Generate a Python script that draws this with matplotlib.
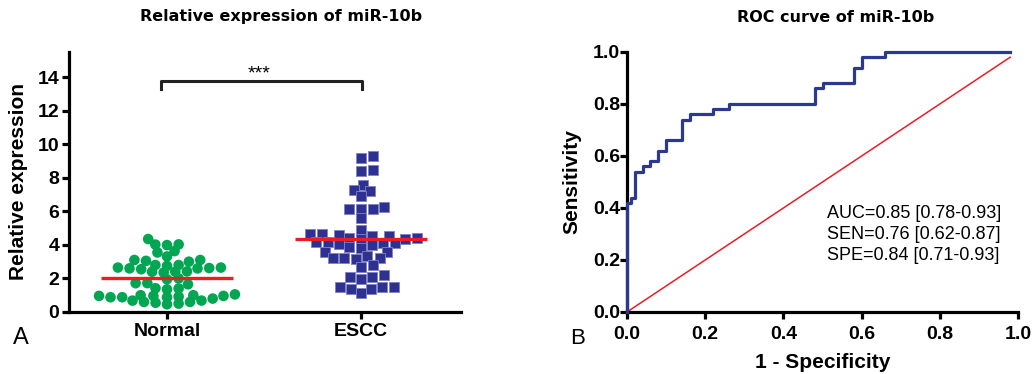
import numpy as np
import matplotlib
matplotlib.use('Agg')
import matplotlib.pyplot as plt

plt.rcParams['font.family'] = ['Liberation Sans', 'DejaVu Sans']

# ---- data ----
groups = ['Normal', 'ESCC']
normal_vals = [4.35, 4.02, 3.99, 4.03, 3.63, 3.55, 3.31, 3.1, 3.05, 3.0,
               3.1, 2.8, 2.75, 2.8, 2.65, 2.6, 2.6, 2.55, 2.65, 2.62,
               2.42, 2.35, 2.4, 2.4, 2.0, 1.95, 1.72, 1.65, 1.72, 1.4,
               1.35, 1.42, 0.88, 1.0, 1.0, 0.96, 0.92, 0.96, 0.96, 1.05,
               0.8, 0.88, 0.88, 0.68, 0.6, 0.55, 0.46, 0.5, 0.6, 0.68]
escc_vals = [9.3, 9.21, 8.49, 8.39, 7.6, 7.3, 7.2, 6.9, 6.27, 6.17,
             6.17, 6.16, 5.58, 4.88, 4.64, 4.54, 4.39, 4.35, 4.39, 4.52,
             4.58, 4.64, 4.33, 4.19, 4.09, 3.99, 4.07, 4.09, 4.19, 3.85,
             3.79, 3.59, 3.59, 3.33, 3.2, 3.16, 3.2, 3.2, 2.7, 2.8,
             2.22, 2.1, 1.96, 2.1, 1.51, 1.37, 1.11, 1.37, 1.51, 1.51]
medians = [2.0, 4.35]
expr_ticks = [0, 2, 4, 6, 8, 10, 12, 14]
signif = '***'

roc_fpr = [0, 0, 0.01, 0.02, 0.04, 0.06, 0.08, 0.10, 0.14, 0.16, 0.22,
           0.26, 0.48, 0.50, 0.58, 0.60, 0.66, 0.98]
roc_tpr = [0, 0.42, 0.44, 0.54, 0.56, 0.58, 0.62, 0.66, 0.74, 0.76, 0.78,
           0.80, 0.86, 0.88, 0.94, 0.98, 1.0, 1.0]
chance_end = 0.98
roc_ticks = [0.0, 0.2, 0.4, 0.6, 0.8, 1.0]
stats_lines = ['AUC=0.85 [0.78-0.93]', 'SEN=0.76 [0.62-0.87]', 'SPE=0.84 [0.71-0.93]']

green = '#00A651'
navy = '#2E3192'
red = '#ED1C24'

W, H = 1035, 374
fig = plt.figure(figsize=(W / 100, H / 100), dpi=100)


def px_box(x0, x1, ytop, ybot):
    return [x0 / W, 1 - ybot / H, (x1 - x0) / W, (ybot - ytop) / H]


def swarm(vals, xscale, yscale, rx, ry):
    # greedy beeswarm with an elliptical keep-out (pixels) -> x offsets in data units
    vals = np.asarray(vals)
    placed = []
    offs = np.zeros(len(vals))
    for n, i in enumerate(np.argsort(vals, kind='stable')):
        y = vals[i] * yscale
        near = [(px, py) for px, py in placed if abs(py - y) < ry]
        cands = [0.0]
        for px, py in near:
            dx = rx * np.sqrt(1 - ((py - y) / ry) ** 2)
            cands += [px - dx, px + dx]
        side = 1 if n % 2 else -1
        cands.sort(key=lambda c: (round(abs(c), 4), -side * c))
        for c in cands:
            if all(((c - px) / rx) ** 2 + ((y - py) / ry) ** 2 >= 1 - 1e-6 for px, py in near):
                break
        placed.append((c, y))
        offs[i] = c / xscale
    return offs


def style_axes(ax):
    for s in ['top', 'right']:
        ax.spines[s].set_visible(False)
    for s in ['left', 'bottom']:
        ax.spines[s].set_linewidth(2.3)
    ax.tick_params(width=2.3, length=5, labelsize=14)
    for lab in ax.get_xticklabels() + ax.get_yticklabels():
        lab.set_fontweight('bold')


# ---- A: scatter ----
axA = fig.add_axes(px_box(69, 461, 52, 312))
xlim = (-0.505, 1.515)
ylim = (0, 15.5)
axA.set_xlim(*xlim)
axA.set_ylim(*ylim)
xs = 392 / (xlim[1] - xlim[0])
ys = 260 / (ylim[1] - ylim[0])

offN = swarm(normal_vals, xs, ys, 11.7, 7.0)
offE = swarm(escc_vals, xs, ys, 11.7, 8.5)
axA.scatter(0 + offN, normal_vals, s=58, marker='o', color=green, edgecolor='none', zorder=3, clip_on=False)
axA.scatter(1 + offE, escc_vals, s=50, marker='s', color=navy, edgecolor='#7F82C0', linewidth=0.6, zorder=3, clip_on=False)
for i, m in enumerate(medians):
    axA.plot([i - 0.34, i + 0.34], [m, m], color=red, lw=2.4, zorder=4, solid_capstyle='butt')

# significance bracket
axA.plot([-0.03, -0.03, 1.005, 1.005], [13.27, 13.8, 13.8, 13.27], color='#222222', lw=2.2, zorder=2)
axA.text(0.475, 13.9, signif, ha='center', va='baseline', fontsize=14)

axA.set_xticks([0, 1])
axA.set_xticklabels(groups)
axA.set_yticks(expr_ticks)
style_axes(axA)
axA.tick_params(axis='y', pad=2)
axA.tick_params(axis='x', pad=3)

# ---- B: ROC ----
axB = fig.add_axes(px_box(627, 1018, 52, 312))
axB.set_xlim(0, 1)
axB.set_ylim(0, 1)
axB.step(roc_fpr, roc_tpr, where='post', color='#2B3990', lw=2.3, clip_on=False, zorder=3)
axB.plot([0, chance_end], [0, chance_end], color=red, lw=1.1, zorder=2)
axB.set_xticks(roc_ticks)
axB.set_yticks(roc_ticks)
axB.set_xticklabels(['%.1f' % t for t in roc_ticks])
axB.set_yticklabels(['%.1f' % t for t in roc_ticks])
style_axes(axB)
axB.tick_params(axis='y', pad=0)
axB.tick_params(axis='x', pad=5)

for k, line in enumerate(stats_lines):
    fig.text(827 / W, 1 - (214 + 21 * k) / H, line, ha='left', va='center', fontsize=13)

# ---- titles and labels ----
fig.text(281 / W, 1 - 17 / H, 'Relative expression of miR-10b', ha='center', va='center',
         fontsize=11.5, fontweight='bold', family='DejaVu Sans')
fig.text(836 / W, 1 - 17 / H, 'ROC curve of miR-10b', ha='center', va='center',
         fontsize=11.5, fontweight='bold', family='DejaVu Sans')
fig.text(18.5 / W, 1 - 182 / H, 'Relative expression', rotation=90, ha='center', va='center',
         fontsize=15, fontweight='bold')
fig.text(572 / W, 1 - 182 / H, 'Sensitivity', rotation=90, ha='center', va='center',
         fontsize=15, fontweight='bold')
fig.text(823 / W, 1 - 362 / H, '1 - Specificity', ha='center', va='center',
         fontsize=15, fontweight='bold')
fig.text(20.5 / W, 1 - 338 / H, 'A', ha='center', va='center', fontsize=17)
fig.text(578 / W, 1 - 338 / H, 'B', ha='center', va='center', fontsize=16)

fig.savefig('out.png', dpi=100)
